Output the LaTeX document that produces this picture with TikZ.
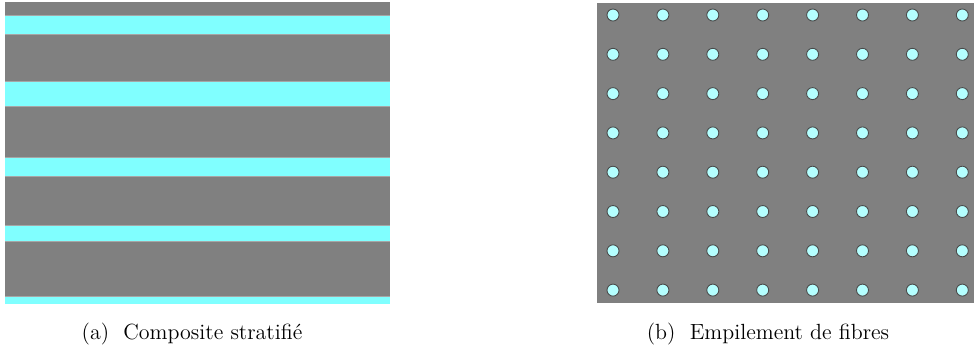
\documentclass[tikz,border=0pt]{standalone}
\usepackage{tikz}
\usetikzlibrary{positioning}
\definecolor{matrice}{HTML}{808080}
\definecolor{pli}{HTML}{80FFFF}
\definecolor{fibre}{HTML}{B4FFFF}
\definecolor{interface}{HTML}{A6A6A6}
\definecolor{bordfibre}{HTML}{4A4A4A}

\begin{document}
\begin{tikzpicture}[x=0.02cm, y=-0.02cm,
    matrice zone/.style={fill=matrice},
    pli zone/.style={fill=pli},
    pli bord/.style={draw=interface, line width=0.6pt},
    fibre node/.style={circle, draw=bordfibre, fill=fibre, line width=0.5pt, minimum size=0.24cm, inner sep=0pt},
    legende/.style={font=\fontsize{12.5}{15}\selectfont, anchor=base}]
  \useasboundingbox (0,0) rectangle (974,353);
  % (a) composite stratifie
  \fill[matrice zone] (5,2) rectangle (390,304);
  \foreach \haut/\bas in {16/34, 82/106, 158/176, 226/241, 297/304}
    \fill[pli zone] (5,\haut) rectangle (390,\bas);
  \foreach \y in {15.5, 34.5, 81.5, 106.5, 157.5, 176.5, 225.5, 241.5, 296.5}
    \draw[pli bord] (5,\y) -- (390,\y);
  % (b) empilement de fibres
  \fill[matrice zone] (597,3) rectangle (974,303);
  \foreach \i in {0,...,7}
    \foreach \j in {0,...,7}
      \node (fib-\i-\j) [fibre node] at (613+49.9*\i, 15+39.3*\j) {};
  % legendes
  \node (legA) [legende] at (192,339) {(a)~~Composite stratifié};
  \node (legB) [legende] at (768,339) {(b)~~Empilement de fibres};
\end{tikzpicture}
\end{document}
